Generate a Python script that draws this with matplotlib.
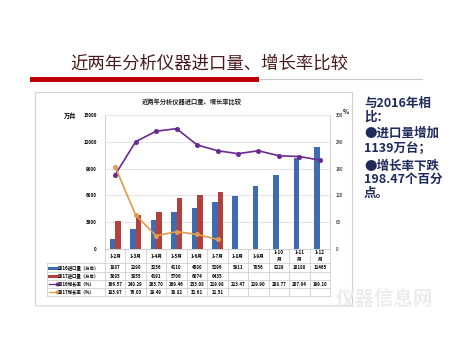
import matplotlib.pyplot as plt
from matplotlib.patches import Rectangle
from matplotlib.lines import Line2D
import numpy as np

plt.rcParams['font.family'] = ['Noto Sans CJK SC', 'DejaVu Sans']

# monthly cumulative data
months = ['1-2月', '1-3月', '1-4月', '1-5月', '1-6月', '1-7月',
          '1-8月', '1-9月', '1-10\n月', '1-11\n月', '1-12\n月']
imports_2016 = [1087, 2190, 3236, 4110, 4580, 5296, 5911, 7056, 8229, 10180, 11465]
imports_2017 = [3085, 3855, 4191, 5706, 6074, 6435]
growth_2016 = [166.57, 240.29, 263.70, 269.46, 233.08, 219.98, 213.47, 219.90, 208.77, 207.04, 199.10]
growth_2017 = [183.97, 76.03, 29.49, 38.82, 32.61, 21.51]
series_names = ['2016进口量（万台）', '2017进口量（万台）', '2016增长率（%）', '2017增长率（%）']

W, H = 450, 338
fig = plt.figure(figsize=(4.5, 3.38), dpi=100)
fig.patch.set_facecolor('white')


def fx(px):
    return px / W


def fy(py):
    return 1 - py / H


# slide header
fig.text(fx(70), fy(64), '近两年分析仪器进口量、增长率比较', fontsize=12.5,
         color='#4a1a1a', va='center', ha='left')
fig.add_artist(Line2D([fx(259), fx(422)], [fy(79), fy(79)], color='#c8c8c8', lw=0.8))
fig.add_artist(Rectangle((fx(30), fy(81.5)), fx(229), 5 / H, color='#c00000', lw=0))

# chart frame (kept behind the axes)
fig.add_artist(Rectangle((fx(35), fy(305)), fx(317), (305 - 92) / H,
                         facecolor='white', edgecolor='#d0d0d0', lw=0.8, zorder=-5))
fig.add_artist(Line2D([fx(36), fx(353)], [fy(306), fy(306)], color='#e6e6e6', lw=1.2, zorder=-5))
fig.text(fx(192), fy(101), '近两年分析仪器进口量、增长率比较', fontsize=4.5,
         fontweight='bold', color='#222222', ha='center', va='center')

left, right, top, bottom = 105, 330, 115, 249
ax = fig.add_axes([fx(left), fy(bottom), fx(right - left), (bottom - top) / H])
ax.patch.set_alpha(0)
ax2 = ax.twinx()

n = len(months)
x = np.arange(n)
bw = 0.27
ax.bar(x[:len(imports_2016)] - bw / 2, imports_2016, bw, color='#3f6cb0', zorder=3)
ax.bar(x[:len(imports_2017)] + bw / 2, imports_2017, bw, color='#b2403c', zorder=3)
ax.set_xlim(-0.5, n - 0.5)
ax.set_ylim(0, 15000)
ax.set_yticks(np.arange(0, 15001, 3000))
ax.grid(axis='y', color='#d9d9d9', lw=0.5, zorder=0)
ax.set_axisbelow(True)
ax.set_xticks([])
ax.tick_params(axis='y', length=0, labelsize=3.2, pad=6)
for lab in ax.get_yticklabels():
    lab.set_fontweight('bold')

ax2.plot(x[:len(growth_2016)], growth_2016, color='#6a2a92', lw=1.2,
         marker='o', ms=2.6, zorder=4)
ax2.plot(x[:len(growth_2017)], growth_2017, color='#e39a4c', lw=1.2,
         marker='o', ms=2.6, zorder=4)
ax2.set_ylim(0, 300)
ax2.set_yticks(np.arange(0, 301, 60))
ax2.tick_params(axis='y', length=0, labelsize=3.2, pad=4)
for a in (ax, ax2):
    for s in a.spines.values():
        s.set_color('#d0d0d0')
        s.set_linewidth(0.6)
ax2.spines['top'].set_visible(False)
ax.spines['top'].set_visible(False)

fig.text(fx(70), fy(115), '万台', fontsize=4.5, fontweight='bold', ha='center', va='center')
fig.text(fx(346), fy(112), '%', fontsize=4.5, fontweight='bold', ha='center', va='center')

# data table under the chart
col_w = (right - left) / n
row_edges = [bottom, 263, 272, 280, 288, 296]
tab_left = 47
grid_c = '#c8c8c8'
for yy in row_edges[1:]:
    fig.add_artist(Line2D([fx(tab_left), fx(right)], [fy(yy), fy(yy)], color=grid_c, lw=0.5))
fig.add_artist(Line2D([fx(tab_left), fx(tab_left)], [fy(263), fy(296)], color=grid_c, lw=0.5))
for i in range(n + 1):
    xx = left + i * col_w
    fig.add_artist(Line2D([fx(xx), fx(xx)], [fy(bottom), fy(296)], color=grid_c, lw=0.5))

for i, m in enumerate(months):
    fig.text(fx(left + (i + 0.5) * col_w), fy(256), m, fontsize=3.3, fontweight='bold',
             ha='center', va='center', linespacing=1.3)

rows = [
    (series_names[0], ['%d' % v for v in imports_2016], '#3f6cb0', None),
    (series_names[1], ['%d' % v for v in imports_2017], '#b2403c', None),
    (series_names[2], ['%.2f' % v for v in growth_2016], '#6a2a92', 'o'),
    (series_names[3], ['%.2f' % v for v in growth_2017], '#e39a4c', 'o'),
]
for r, (name, vals, c, mk) in enumerate(rows):
    yc = (row_edges[r + 1] + row_edges[r + 2]) / 2
    fig.add_artist(Line2D([fx(49), fx(57)], [fy(yc), fy(yc)], color=c,
                          lw=2.2 if mk is None else 0.9, marker=mk, ms=1.8,
                          markevery=[1] if mk else None))
    fig.text(fx(57.5), fy(yc), name, fontsize=3.2, fontweight='bold', ha='left', va='center')
    for i, v in enumerate(vals):
        fig.text(fx(left + (i + 0.5) * col_w), fy(yc), v, fontsize=3.2,
                 fontweight='bold', ha='center', va='center')

# side notes
notes = ['与2016年相', '比：', '●进口量增加', '1139万台；', '●增长率下跌', '198.47个百分', '点。']
note_y = [103, 117, 133, 148, 166, 179, 193]
for t, yy in zip(notes, note_y):
    fig.text(fx(364), fy(yy), t, fontsize=9, fontweight='bold', color='#1f2a5c',
             ha='left', va='center')

fig.text(fx(385), fy(300), '仪器信息网', fontsize=14, fontweight='bold', color='#e8e8e8',
         ha='center', va='center', alpha=0.8)

fig.savefig('out.png', dpi=100)
